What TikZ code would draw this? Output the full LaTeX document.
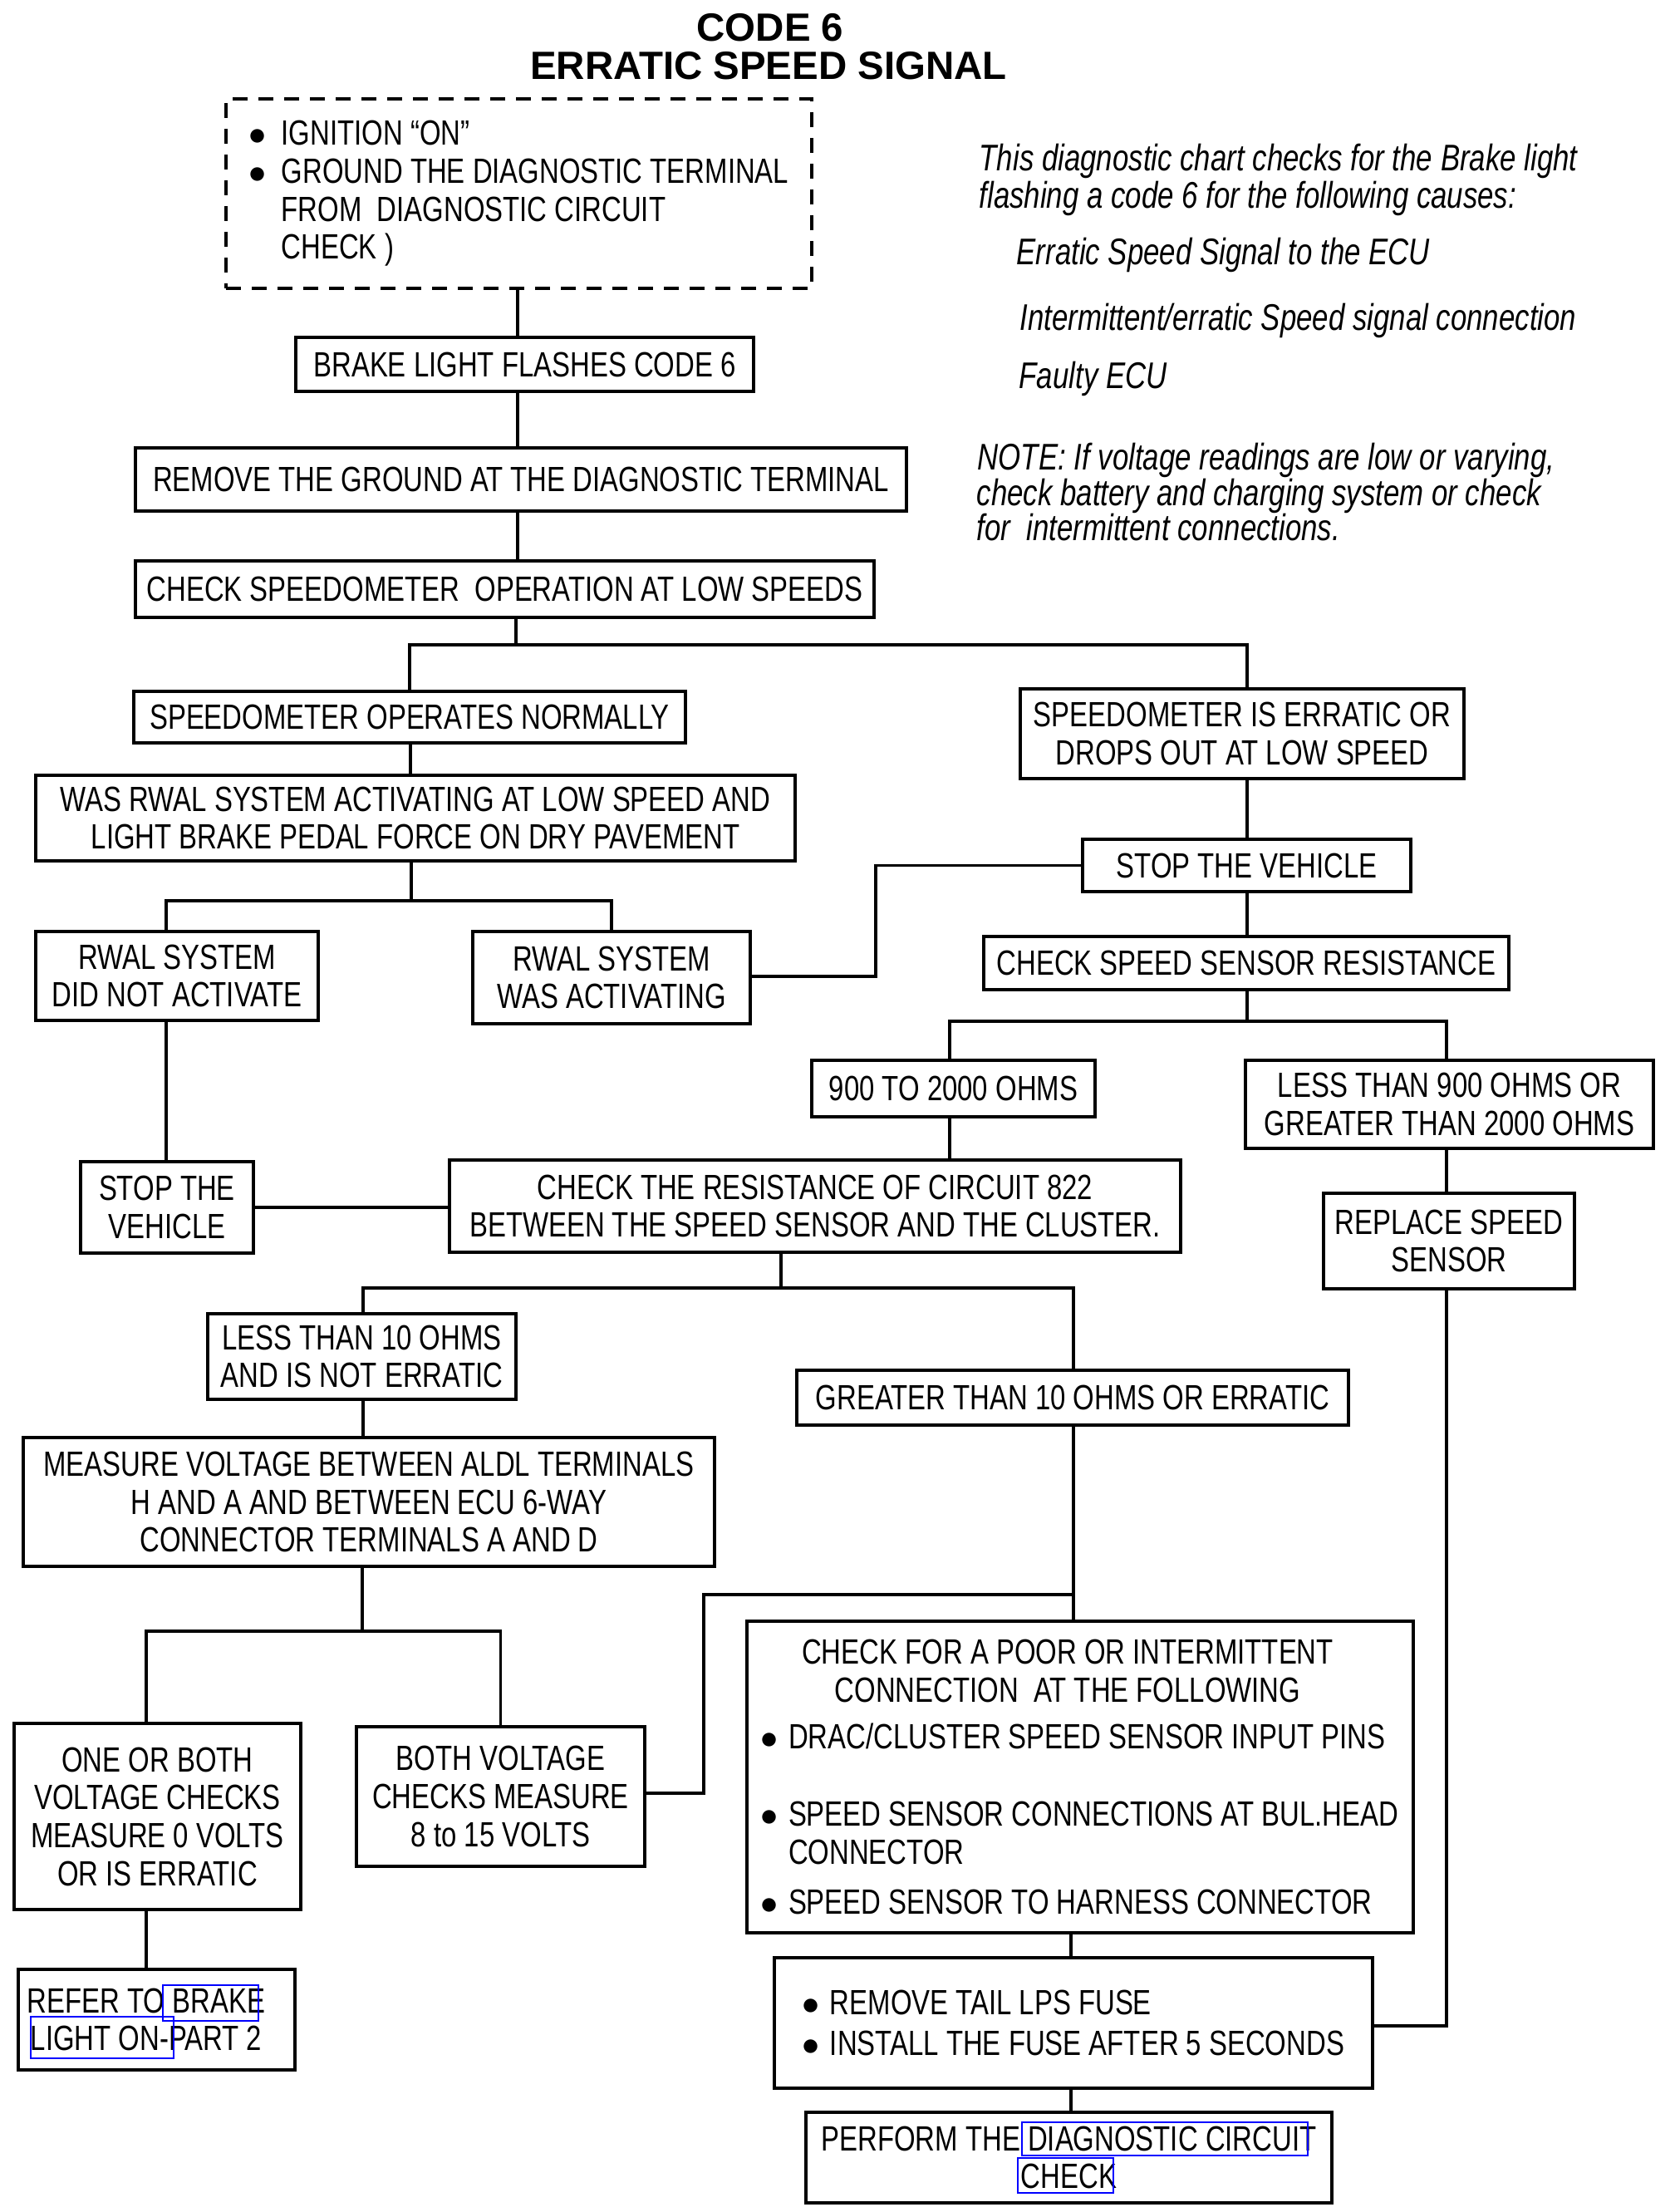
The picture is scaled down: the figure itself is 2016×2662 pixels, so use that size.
\documentclass[tikz,border=0pt]{standalone}
\usepackage{fontspec}
\setmainfont{Liberation Sans}[FakeStretch=0.78]
\newfontfamily\titlefont{Liberation Sans}
\newcommand\bul[1][3.9mm]{\makebox[#1][l]{$\bullet$}}
\usetikzlibrary{calc}
\tikzset{
  box/.style={draw, line width=1pt, inner xsep=1mm, inner ysep=0.5mm, align=center, font=\fontsize{12}{13}\selectfont},
  sz/.style 2 args={minimum width=#1*0.1mm, minimum height=#2*0.1mm},
  dbox/.style={box, dash pattern=on 1.8mm off 1.3mm},
  ln/.style={line width=1pt},
  note/.style={anchor=base west, inner sep=0pt, font=\fontsize{12.7}{14}\selectfont\itshape},
  ttl/.style={anchor=base, inner sep=0pt, font=\titlefont\bfseries\fontsize{13.5}{15}\selectfont},
  link/.style={draw=blue, line width=0.6pt}
}
\begin{document}
\begin{tikzpicture}[x=0.1mm,y=-0.1mm, every node/.style={inner sep=0pt}]
\fill[white] (0,0) rectangle (2016,2662);
\useasboundingbox (0,0) rectangle (2016,2662);

% title
\node[ttl] (t1) at (927,50) {CODE 6};
\node[ttl] (t2) at (925,96) {ERRATIC SPEED SIGNAL};

% notes
\node[note] (n1) at (1178,206) {This diagnostic chart checks for the Brake light};
\node[note] (n2) at (1178,250) {flashing a code 6 for the following causes:};
\node[note] (n3) at (1223,319) {Erratic Speed Signal to the ECU};
\node[note] (n4) at (1227,397) {Intermittent/erratic Speed signal connection};
\node[note] (n5) at (1226,467) {Faulty ECU};
\node[note] (n6) at (1176,565) {NOTE: If voltage readings are low or varying,};
\node[note] (n7) at (1175,608) {check battery and charging system or check};
\node[note] (n8) at (1175,650) {for\ \ intermittent connections.};

% boxes
\node[dbox, sz={705}{228}, align=left] (dash) at (624.5,233) {\bul IGNITION ``ON''\\\bul GROUND THE DIAGNOSTIC TERMINAL\\\hspace*{3.9mm}FROM\ \ DIAGNOSTIC CIRCUIT\\\hspace*{3.9mm}CHECK )};
\node[box, sz={551}{65}] (brake) at (631.5,438.5) {BRAKE LIGHT FLASHES CODE 6};
\node[box, sz={928}{76}] (remove) at (627,577) {REMOVE THE GROUND AT THE DIAGNOSTIC TERMINAL};
\node[box, sz={889}{68}] (checkspd) at (607.5,709) {CHECK SPEEDOMETER\ \ OPERATION AT LOW SPEEDS};
\node[box, sz={664}{62}] (normal) at (493,863) {SPEEDOMETER OPERATES NORMALLY};
\node[box, sz={914}{103}] (was) at (500,984.5) {WAS RWAL SYSTEM ACTIVATING AT LOW SPEED AND\\LIGHT BRAKE PEDAL FORCE ON DRY PAVEMENT};
\node[box, sz={340}{107}] (notact) at (213,1174.5) {RWAL SYSTEM\\DID NOT ACTIVATE};
\node[box, sz={334}{111}] (wasact) at (736,1176.5) {RWAL SYSTEM\\WAS ACTIVATING};
\node[box, sz={534}{108}] (erratic) at (1495,883) {SPEEDOMETER IS ERRATIC OR\\DROPS OUT AT LOW SPEED};
\node[box, sz={395}{63}] (stopR) at (1500.5,1041.5) {STOP THE VEHICLE};
\node[box, sz={632}{64}] (cssr) at (1500,1159) {CHECK SPEED SENSOR RESISTANCE};
\node[box, sz={341}{68}] (ohm900) at (1147.5,1310) {900 TO 2000 OHMS};
\node[box, sz={491}{106}] (lt900) at (1744.5,1329) {LESS THAN 900 OHMS OR\\GREATER THAN 2000 OHMS};
\node[box, sz={880}{111}] (circ) at (981,1451.5) {CHECK THE RESISTANCE OF CIRCUIT 822\\BETWEEN THE SPEED SENSOR AND THE CLUSTER.};
\node[box, sz={208}{110}] (stopL) at (201,1453) {STOP THE\\VEHICLE};
\node[box, sz={371}{103}] (lt10) at (435.5,1632.5) {LESS THAN 10 OHMS\\AND IS NOT ERRATIC};
\node[box, sz={664}{66}] (gt10) at (1291,1682) {GREATER THAN 10 OHMS OR ERRATIC};
\node[box, sz={832}{155}] (measure) at (444,1807.5) {MEASURE VOLTAGE BETWEEN ALDL TERMINALS\\H AND A AND BETWEEN ECU 6-WAY\\CONNECTOR TERMINALS A AND D};
\node[box, sz={302}{115}] (replace) at (1744,1493.5) {REPLACE SPEED\\SENSOR};
\node[box, sz={345}{224}] (oneor) at (189.5,2186) {ONE OR BOTH\\VOLTAGE CHECKS\\MEASURE 0 VOLTS\\OR IS ERRATIC};
\node[box, sz={347}{168}] (both) at (602.5,2162) {BOTH VOLTAGE\\CHECKS MEASURE\\8 to 15 VOLTS};
\node[box, sz={802}{375}, align=left] (poor) at (1300,2138.5) {%
\makebox[77mm]{CHECK FOR A POOR OR INTERMITTENT\makebox[3mm]{}}\\
\makebox[77mm]{CONNECTION\ \ AT THE FOLLOWING\makebox[3mm]{}}\\[1mm]
\bul[3.4mm]DRAC/CLUSTER SPEED SENSOR INPUT PINS\\[4.8mm]
\bul[3.4mm]SPEED SENSOR CONNECTIONS AT BUL.HEAD\\
\hspace*{3.4mm}CONNECTOR\\[1.4mm]
\bul[3.4mm]SPEED SENSOR TO HARNESS CONNECTOR};
\node[box, sz={720}{157}, align=left] (tail) at (1292,2434.5) {\bul[3.3mm]REMOVE TAIL LPS FUSE\\[0.4mm]\bul[3.3mm]INSTALL THE FUSE AFTER 5 SECONDS};
\node[box, sz={333}{121}] (refer) at (188.5,2430.5) {REFER TO BRAKE\makebox[2.5mm]{}\\LIGHT ON-PART 2\makebox[2.5mm]{}};
\node[box, sz={633}{109}] (perform) at (1286.5,2596.5) {PERFORM THE DIAGNOSTIC CIRCUIT\\CHECK};

% connectors
\coordinate (xa) at (623,0);
\draw[ln] (dash.south -| xa) -- (brake.north -| xa);
\draw[ln] (brake.south -| xa) -- (remove.north -| xa);
\draw[ln] (remove.south -| xa) -- (checkspd.north -| xa);
\coordinate (j1) at (621,776);
\coordinate (xe) at (1501,0);
\draw[ln] (checkspd.south -| j1) -- (j1);
\draw[ln] (normal.north) |- (j1) -| (erratic.north -| xe);
\coordinate (xw) at (494,0);
\draw[ln] (normal.south -| xw) -- (was.north -| xw);
\coordinate (j2) at (495,1084);
\coordinate (xn) at (200,0);
\draw[ln] (was.south -| j2) -- (j2);
\draw[ln] (notact.north -| xn) |- (j2) -| (wasact.north);
\coordinate (k1) at (1054,1175);
\draw[ln] (wasact.east |- k1) -- (k1) |- (stopR.west);
\draw[ln] (erratic.south -| xe) -- (stopR.north -| xe);
\draw[ln] (stopR.south -| xe) -- (cssr.north -| xe);
\coordinate (j3) at (1501,1229);
\coordinate (xo) at (1143,0);
\coordinate (xl) at (1741,0);
\draw[ln] (cssr.south -| j3) -- (j3);
\draw[ln] (ohm900.north -| xo) |- (j3) -| (lt900.north -| xl);
\draw[ln] (ohm900.south -| xo) -- (circ.north -| xo);
\draw[ln] (lt900.south -| xl) -- (replace.north -| xl);
\draw[ln] (notact.south -| xn) -- (stopL.north -| xn);
\draw[ln] (stopL.east) -- (circ.west |- stopL.east);
\coordinate (j4) at (940,1550);
\coordinate (xt) at (437,0);
\coordinate (xg) at (1292,0);
\draw[ln] (circ.south -| j4) -- (j4);
\draw[ln] (lt10.north -| xt) |- (j4) -| (gt10.north -| xg);
\draw[ln] (lt10.south -| xt) -- (measure.north -| xt);
\coordinate (j5) at (436,1963);
\coordinate (xv) at (176,0);
\draw[ln] (measure.south -| j5) -- (j5);
\draw[ln] (oneor.north -| xv) |- (j5) -| (both.north);
\draw[ln] (oneor.south -| xv) -- (refer.north -| xv);
\draw[ln] (gt10.south -| xg) -- (poor.north -| xg);
\coordinate (k2) at (847,2158);
\coordinate (k3) at (1292,1919);
\draw[ln] (both.east |- k2) -- (k2) |- (k3);
\coordinate (xp) at (1289,0);
\draw[ln] (poor.south -| xp) -- (tail.north -| xp);
\coordinate (k4) at (1741,2438);
\draw[ln] (replace.south -| k4) -- (k4) -- (tail.east |- k4);
\draw[ln] (tail.south -| xp) -- (perform.north -| xp);

% link frames
\draw[link] (196,2389) rectangle (311,2432);
\draw[link] (37,2427) rectangle (209,2477);
\draw[link] (1230,2554) rectangle (1574,2594);
\draw[link] (1225,2597) rectangle (1340,2639);
\end{tikzpicture}
\end{document}
